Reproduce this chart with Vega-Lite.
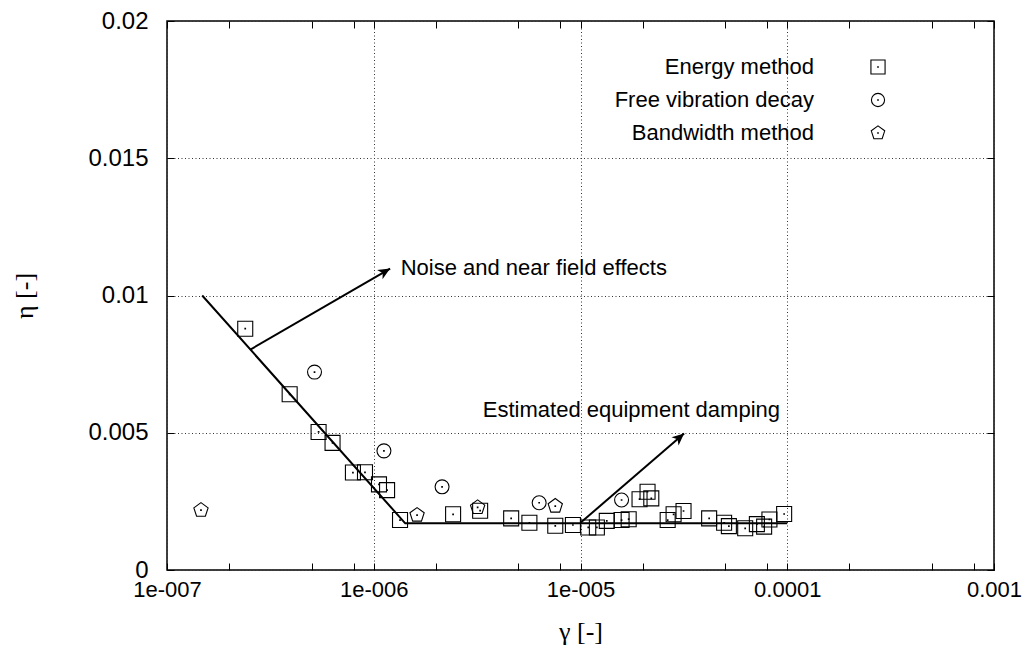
{
  "$schema": "https://vega.github.io/schema/vega-lite/v6.json",
  "width": 827,
  "height": 549,
  "autosize": {"type": "none"},
  "padding": {"left": 167, "top": 21, "right": 39, "bottom": 85},
  "background": "white",
  "config": {
    "view": {"stroke": "black", "strokeWidth": 1.5},
    "font": "Liberation Sans",
    "axis": {
      "domain": false,
      "tickColor": "black",
      "tickWidth": 1,
      "tickSize": -7,
      "labelFont": "Liberation Sans",
      "labelFontSize": 22,
      "labelColor": "black",
      "labelOverlap": false,
      "labelFlush": false,
      "gridColor": "#333333",
      "gridDash": [1, 2.5],
      "gridWidth": 1,
      "titleFont": "Liberation Serif",
      "titleFontSize": 26,
      "titleFontWeight": "normal",
      "titleColor": "black"
    },
    "legend": {
      "labelFont": "Liberation Sans",
      "labelFontSize": 22,
      "labelColor": "black",
      "labelLimit": 400
    }
  },
  "datasets": {
    "measurements": [
      {"series": "Energy method", "gamma": 2.39e-7, "eta": 0.00879},
      {"series": "Energy method", "gamma": 3.92e-7, "eta": 0.0064},
      {"series": "Energy method", "gamma": 5.41e-7, "eta": 0.00503},
      {"series": "Energy method", "gamma": 6.32e-7, "eta": 0.00463},
      {"series": "Energy method", "gamma": 7.93e-7, "eta": 0.00355},
      {"series": "Energy method", "gamma": 9.07e-7, "eta": 0.00356},
      {"series": "Energy method", "gamma": 1.06e-6, "eta": 0.00312},
      {"series": "Energy method", "gamma": 1.16e-6, "eta": 0.00291},
      {"series": "Energy method", "gamma": 1.34e-6, "eta": 0.00182},
      {"series": "Energy method", "gamma": 2.42e-6, "eta": 0.00203},
      {"series": "Energy method", "gamma": 3.27e-6, "eta": 0.00216},
      {"series": "Energy method", "gamma": 4.62e-6, "eta": 0.00188},
      {"series": "Energy method", "gamma": 5.66e-6, "eta": 0.00172},
      {"series": "Energy method", "gamma": 7.55e-6, "eta": 0.00161},
      {"series": "Energy method", "gamma": 9.19e-6, "eta": 0.00164},
      {"series": "Energy method", "gamma": 1.09e-5, "eta": 0.00155},
      {"series": "Energy method", "gamma": 1.2e-5, "eta": 0.00155},
      {"series": "Energy method", "gamma": 1.34e-5, "eta": 0.00179},
      {"series": "Energy method", "gamma": 1.58e-5, "eta": 0.00182},
      {"series": "Energy method", "gamma": 1.71e-5, "eta": 0.00185},
      {"series": "Energy method", "gamma": 1.93e-5, "eta": 0.00258},
      {"series": "Energy method", "gamma": 2.11e-5, "eta": 0.00285},
      {"series": "Energy method", "gamma": 2.2e-5, "eta": 0.00261},
      {"series": "Energy method", "gamma": 2.64e-5, "eta": 0.00182},
      {"series": "Energy method", "gamma": 2.82e-5, "eta": 0.00203},
      {"series": "Energy method", "gamma": 3.15e-5, "eta": 0.00215},
      {"series": "Energy method", "gamma": 4.19e-5, "eta": 0.00188},
      {"series": "Energy method", "gamma": 4.95e-5, "eta": 0.00172},
      {"series": "Energy method", "gamma": 5.22e-5, "eta": 0.0016},
      {"series": "Energy method", "gamma": 6.26e-5, "eta": 0.00152},
      {"series": "Energy method", "gamma": 7.13e-5, "eta": 0.00167},
      {"series": "Energy method", "gamma": 7.73e-5, "eta": 0.00158},
      {"series": "Energy method", "gamma": 8.2e-5, "eta": 0.00184},
      {"series": "Energy method", "gamma": 9.66e-5, "eta": 0.00204},
      {"series": "Free vibration decay", "gamma": 5.17e-7, "eta": 0.00721},
      {"series": "Free vibration decay", "gamma": 1.12e-6, "eta": 0.00434},
      {"series": "Free vibration decay", "gamma": 2.14e-6, "eta": 0.00303},
      {"series": "Free vibration decay", "gamma": 6.31e-6, "eta": 0.00245},
      {"series": "Free vibration decay", "gamma": 1.58e-5, "eta": 0.00255},
      {"series": "Bandwidth method", "gamma": 1.46e-7, "eta": 0.00218},
      {"series": "Bandwidth method", "gamma": 1.62e-6, "eta": 0.002},
      {"series": "Bandwidth method", "gamma": 3.18e-6, "eta": 0.00228},
      {"series": "Bandwidth method", "gamma": 7.55e-6, "eta": 0.00233}
    ],
    "fit": [
      {"gamma": 1.48e-7, "eta": 0.01},
      {"gamma": 1.42e-6, "eta": 0.0017},
      {"gamma": 1e-4, "eta": 0.0017}
    ],
    "arrows": [
      {"name": "noise", "gamma": 2.53e-7, "eta": 0.00803, "gamma2": 1.2e-6, "eta2": 0.01098},
      {"name": "equipment", "gamma": 1.0e-5, "eta": 0.00172, "gamma2": 3.17e-5, "eta2": 0.00497}
    ],
    "notes": [
      {"text": "Noise and near field effects", "gamma": 1.35e-6, "eta": 0.01102},
      {"text": "Estimated equipment damping", "gamma": 3.37e-6, "eta": 0.00582}
    ]
  },
  "resolve": {
    "scale": {"x": "shared", "y": "shared"},
    "axis": {"x": "independent", "y": "independent"}
  },
  "layer": [
    {
      "data": {"name": "measurements"},
      "mark": {"type": "point", "filled": false, "stroke": "black", "strokeWidth": 1.1, "size": 225, "opacity": 1},
      "encoding": {
        "x": {
          "field": "gamma", "type": "quantitative",
          "scale": {"type": "log", "domain": [1e-7, 1e-3], "nice": false},
          "axis": {
            "orient": "bottom",
            "title": "γ [-]",
            "titlePadding": 18,
            "labelPadding": 16,
            "grid": true,
            "gridOpacity": {"condition": {"test": "abs(log(datum.value)/LN10 - round(log(datum.value)/LN10)) < 0.01", "value": 1}, "value": 0},
            "values": [1e-7, 2e-7, 5e-7, 8e-7, 1e-6, 2e-6, 5e-6, 8e-6, 1e-5, 2e-5, 5e-5, 8e-5, 1e-4, 2e-4, 5e-4, 8e-4, 1e-3],
            "labelExpr": "abs(log(datum.value)/LN10 - round(log(datum.value)/LN10)) > 0.01 ? '' : datum.value < 5e-7 ? '1e-007' : datum.value < 5e-6 ? '1e-006' : datum.value < 5e-5 ? '1e-005' : datum.value < 5e-4 ? '0.0001' : '0.001'"
          }
        },
        "y": {
          "field": "eta", "type": "quantitative",
          "scale": {"domain": [0, 0.02], "nice": false, "zero": true},
          "axis": {
            "orient": "left",
            "title": "η [-]",
            "titlePadding": 50,
            "labelPadding": 26,
            "labelFontSize": 24,
            "grid": true,
            "values": [0, 0.005, 0.01, 0.015, 0.02],
            "format": "~g"
          }
        },
        "shape": {
          "field": "series", "type": "nominal",
          "scale": {
            "domain": ["Energy method", "Free vibration decay", "Bandwidth method"],
            "range": [
              "M-1,-1H1V1H-1Z M-0.04,-0.04H0.04V0.04H-0.04Z",
              "M0.93,0A0.93,0.93 0 1,1 -0.93,0A0.93,0.93 0 1,1 0.93,0Z M-0.04,-0.04H0.04V0.04H-0.04Z",
              "M0,-1L0.951,-0.309L0.588,0.809L-0.588,0.809L-0.951,-0.309Z M-0.04,-0.04H0.04V0.04H-0.04Z"
            ]
          },
          "legend": {
            "title": null,
            "orient": "none",
            "legendX": 700,
            "legendY": 35,
            "padding": 0,
            "labelAlign": "right",
            "labelOffset": -75,
            "rowPadding": 11,
            "symbolSize": 200,
            "symbolStrokeColor": "black",
            "symbolFillColor": "transparent",
            "symbolStrokeWidth": 1.1,
            "symbolOpacity": 1
          }
        }
      }
    },
    {
      "data": {"name": "fit"},
      "mark": {"type": "line", "color": "black", "strokeWidth": 2},
      "encoding": {
        "x": {
          "field": "gamma", "type": "quantitative",
          "axis": {
            "orient": "top", "title": null, "labels": false, "grid": false,
            "values": [1e-7, 2e-7, 5e-7, 8e-7, 1e-6, 2e-6, 5e-6, 8e-6, 1e-5, 2e-5, 5e-5, 8e-5, 1e-4, 2e-4, 5e-4, 8e-4, 1e-3]
          }
        },
        "y": {
          "field": "eta", "type": "quantitative",
          "axis": {
            "orient": "right", "title": null, "labels": false, "grid": false,
            "values": [0, 0.005, 0.01, 0.015, 0.02]
          }
        }
      }
    },
    {
      "data": {"name": "arrows"},
      "mark": {"type": "rule", "color": "black", "strokeWidth": 2},
      "encoding": {
        "x": {"field": "gamma", "type": "quantitative", "axis": null},
        "y": {"field": "eta", "type": "quantitative", "axis": null},
        "x2": {"field": "gamma2"},
        "y2": {"field": "eta2"}
      }
    },
    {
      "data": {"name": "arrows"},
      "transform": [{"filter": "datum.name === 'noise'"}],
      "mark": {"type": "point", "shape": "M0,0L-1,-0.45L-0.72,0L-1,0.45Z", "filled": true, "color": "black", "size": 576, "angle": -30.5, "opacity": 1},
      "encoding": {
        "x": {"field": "gamma2", "type": "quantitative", "axis": null},
        "y": {"field": "eta2", "type": "quantitative", "axis": null}
      }
    },
    {
      "data": {"name": "arrows"},
      "transform": [{"filter": "datum.name === 'equipment'"}],
      "mark": {"type": "point", "shape": "M0,0L-1,-0.45L-0.72,0L-1,0.45Z", "filled": true, "color": "black", "size": 576, "angle": -40.9, "opacity": 1},
      "encoding": {
        "x": {"field": "gamma2", "type": "quantitative", "axis": null},
        "y": {"field": "eta2", "type": "quantitative", "axis": null}
      }
    },
    {
      "data": {"name": "notes"},
      "mark": {"type": "text", "align": "left", "baseline": "middle", "font": "Liberation Sans", "fontSize": 22, "color": "black"},
      "encoding": {
        "x": {"field": "gamma", "type": "quantitative", "axis": null},
        "y": {"field": "eta", "type": "quantitative", "axis": null},
        "text": {"field": "text"}
      }
    }
  ]
}
